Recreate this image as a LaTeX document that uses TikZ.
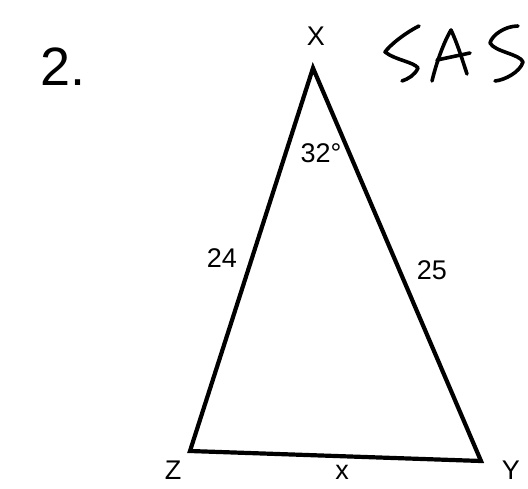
\documentclass[tikz,border=0pt]{standalone}
\usepackage{fontspec}
\setmainfont{Liberation Sans}
\begin{document}
\begin{tikzpicture}[x=1pt,y=-1pt,
  lbl/.style={font=\fontsize{27}{30}\selectfont, inner sep=0pt},
  tri/.style={line width=4.2pt, line join=miter},
  hand/.style={line width=3.6pt, line cap=round, line join=round}]
\useasboundingbox (0,0) rectangle (528,489);
\coordinate (X) at (313,68);
\coordinate (Z) at (190,451);
\coordinate (Y) at (481,461);
\draw[tri] (X) -- (Y) -- (Z) -- cycle;
\node[font=\fontsize{54}{60}\selectfont, inner sep=0pt] (num) at (63,67) {2.};
\node[lbl] (lx) at (316,36) {X};
\node[lbl] (ly) at (511,470) {Y};
\node[lbl] (lz) at (173,470) {Z};
\node[lbl] (lxs) at (342,472) {x};
\node[lbl] (l24) at (222,258) {24};
\node[lbl] (l25) at (432,270) {25};
\node[lbl] (lang) at (321,153) {32°};
% handwritten SAS
\draw[hand] (419,26) .. controls (405,33) and (390,45) .. (385,52)
  .. controls (395,60) and (414,62) .. (418,68)
  .. controls (415,75) and (408,79) .. (402,81);
\draw[hand] (432,81) .. controls (437,60) and (445,40) .. (451,30)
  .. controls (458,45) and (463,62) .. (467,74);
\draw[hand] (437,60) -- (470,53);
\draw[hand] (518,26) .. controls (505,26) and (492,35) .. (490,43)
  .. controls (495,52) and (520,54) .. (523,62)
  .. controls (520,72) and (505,80) .. (495,81);
\end{tikzpicture}
\end{document}
